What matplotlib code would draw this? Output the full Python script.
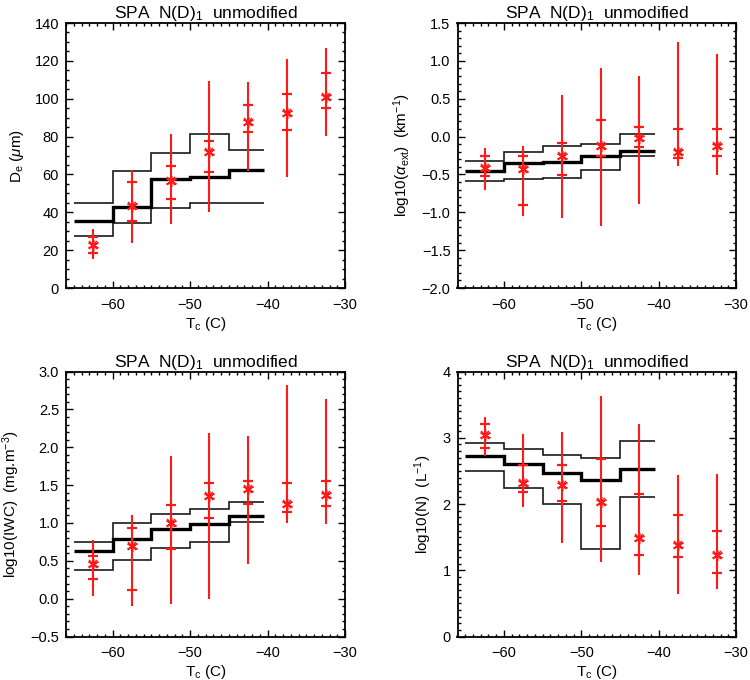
import matplotlib
matplotlib.use("Agg")
import matplotlib.pyplot as plt
from matplotlib.ticker import MultipleLocator
import numpy as np

plt.rcParams['font.family'] = ['Liberation Sans', 'DejaVu Sans']
plt.rcParams['mathtext.fontset'] = 'custom'
plt.rcParams['mathtext.rm'] = 'Liberation Sans'
plt.rcParams['mathtext.it'] = 'Liberation Sans:italic'
plt.rcParams['mathtext.bf'] = 'Liberation Sans:bold'

# ---- data ----
temp_centers = [-62.5, -57.5, -52.5, -47.5, -42.5, -37.5, -32.5]
bin_edges = [-65, -60, -55, -50, -45, -40.5]

# Panel 1: De (um)
de_med = [22.6, 43.3, 56.3, 72.1, 87.5, 92.6, 100.9]
de_q75 = [27.2, 55.8, 64.7, 77.4, 96.8, 102.3, 113.7]
de_q25 = [18.6, 35.3, 47.2, 61.4, 82.6, 83.3, 95.3]
de_hi = [31.1, 62.3, 81.6, 109.3, 108.9, 121.2, 126.7]
de_lo = [15.1, 23.9, 33.7, 40.2, 61.6, 58.8, 80.4]
de_mod_up = [45.1, 61.6, 71.1, 81.4, 73.0]
de_mod_mid = [35.4, 43.0, 57.4, 58.9, 62.5]
de_mod_lo = [27.4, 34.2, 42.1, 45.1, 45.1]

# Panel 2: log10(alpha_ext)
ext_med = [-0.417, -0.425, -0.25, -0.118, -0.013, -0.206, -0.123]
ext_q75 = [-0.254, -0.254, -0.083, 0.224, 0.127, 0.096, 0.105]
ext_q25 = [-0.518, -0.904, -0.513, -0.263, -0.136, -0.281, -0.259]
ext_hi = [-0.149, -0.127, 0.548, 0.908, 0.803, 1.25, 1.092]
ext_lo = [-0.70, -1.053, -1.079, -1.18, -0.886, -0.395, -0.509]
ext_mod_up = [-0.32, -0.20, -0.123, -0.096, 0.031]
ext_mod_mid = [-0.452, -0.35, -0.338, -0.263, -0.184]
ext_mod_lo = [-0.583, -0.561, -0.553, -0.439, -0.254]

# Panel 3: log10(IWC)
iwc_med = [0.46, 0.697, 1.0, 1.355, 1.443, 1.254, 1.373]
iwc_q75 = [0.561, 0.934, 1.241, 1.531, 1.553, 1.522, 1.548]
iwc_q25 = [0.254, 0.118, 0.662, 1.07, 1.246, 1.149, 1.219]
iwc_hi = [0.776, 1.11, 1.882, 2.189, 2.149, 2.816, 2.64]
iwc_lo = [0.031, -0.096, -0.066, -0.004, 0.46, 1.004, 0.982]
iwc_mod_up = [0.754, 1.0, 1.118, 1.18, 1.281]
iwc_mod_mid = [0.632, 0.789, 0.921, 0.987, 1.092]
iwc_mod_lo = [0.382, 0.509, 0.667, 0.746, 1.009]

# Panel 4: log10(N)
n_med = [3.04, 2.318, 2.283, 2.025, 1.49, 1.384, 1.227]
n_q75 = [3.202, 2.596, 2.596, 2.682, 2.152, 1.828, 1.591]
n_q25 = [2.848, 2.187, 2.045, 1.662, 1.237, 1.202, 0.96]
n_hi = [3.318, 3.06, 3.091, 3.631, 3.202, 2.434, 2.46]
n_lo = [2.722, 1.955, 1.409, 1.121, 0.924, 0.646, 0.717]
n_mod_up = [2.924, 2.823, 2.737, 2.697, 2.949]
n_mod_mid = [2.732, 2.606, 2.465, 2.359, 2.535]
n_mod_lo = [2.495, 2.247, 2.0, 1.323, 2.106]

title = r"SPA  N(D)$_1$  unmodified"
xlabel = r"T$_\mathrm{c}$ (C)"

panels = [
    dict(med=de_med, q75=de_q75, q25=de_q25, hi=de_hi, lo=de_lo,
         up=de_mod_up, mid=de_mod_mid, dn=de_mod_lo,
         ylim=(0, 140), major=20, minor=5, fmt="{:.0f}",
         ylabel=r"D$_\mathrm{e}$ ($\mu$m)"),
    dict(med=ext_med, q75=ext_q75, q25=ext_q25, hi=ext_hi, lo=ext_lo,
         up=ext_mod_up, mid=ext_mod_mid, dn=ext_mod_lo,
         ylim=(-2.0, 1.5), major=0.5, minor=0.1, fmt="{:.1f}",
         ylabel=r"log10($\alpha_\mathrm{ext}$)  (km$^{-1}$)"),
    dict(med=iwc_med, q75=iwc_q75, q25=iwc_q25, hi=iwc_hi, lo=iwc_lo,
         up=iwc_mod_up, mid=iwc_mod_mid, dn=iwc_mod_lo,
         ylim=(-0.5, 3.0), major=0.5, minor=0.1, fmt="{:.1f}",
         ylabel=r"log10(IWC)  (mg.m$^{-3}$)"),
    dict(med=n_med, q75=n_q75, q25=n_q25, hi=n_hi, lo=n_lo,
         up=n_mod_up, mid=n_mod_mid, dn=n_mod_lo,
         ylim=(0, 4), major=1, minor=0.1, fmt="{:.0f}",
         ylabel=r"log10(N)  (L$^{-1}$)"),
]

W, H = 750, 680
fig = plt.figure(figsize=(W / 100, H / 100), dpi=100)

boxes = [(66, 23, 345, 288), (457.5, 23, 736, 288),
         (66, 371.5, 345, 636.5), (457.5, 371.5, 736, 636.5)]

red = '#ff1a1a'
for p, (l, t, r, b) in zip(panels, boxes):
    ax = fig.add_axes([l / W, 1 - b / H, (r - l) / W, (b - t) / H])
    # model step lines
    ax.stairs(p['up'], bin_edges, baseline=None, color='#1a1a1a', lw=1.2)
    ax.stairs(p['dn'], bin_edges, baseline=None, color='#1a1a1a', lw=1.2)
    ax.stairs(p['mid'], bin_edges, baseline=None, color='#000000', lw=2.4)
    # observations
    ax.vlines(temp_centers, p['lo'], p['hi'], color=red, lw=1.5, zorder=3)
    ax.plot(temp_centers, p['q75'], ls='none', marker='_', ms=7, mew=1.6,
            color=red, zorder=4)
    ax.plot(temp_centers, p['q25'], ls='none', marker='_', ms=7, mew=1.6,
            color=red, zorder=4)
    ax.plot(temp_centers, p['med'], ls='none', marker=(6, 2, 0), ms=8, mew=1.1,
            color=red, zorder=5)
    ax.plot(temp_centers, p['med'], ls='none', marker='x', ms=6, mew=1.1,
            color=red, zorder=5)

    ax.set_xlim(-66, -30)
    ax.set_ylim(*p['ylim'])
    ax.xaxis.set_major_locator(MultipleLocator(10))
    ax.xaxis.set_minor_locator(MultipleLocator(1))
    ax.yaxis.set_major_locator(MultipleLocator(p['major']))
    ax.yaxis.set_minor_locator(MultipleLocator(p['minor']))
    fmt = p['fmt']
    ax.set_yticks(ax.get_yticks())
    ax.set_yticklabels([fmt.format(v).replace('-', '\u2212') for v in ax.get_yticks()])
    ax.set_ylim(*p['ylim'])
    ax.tick_params(which='both', direction='in', top=True, right=True,
                   labelsize=10.5, width=1.0, colors='black')
    ax.tick_params(which='major', length=5)
    ax.tick_params(axis='y', which='major', pad=5)
    ax.tick_params(axis='x', which='major', pad=7)
    ax.tick_params(which='minor', length=2.5)
    for s in ax.spines.values():
        s.set_linewidth(1.3)
    ax.set_title(title, fontsize=12.5, pad=3)
    ax.set_xlabel(xlabel, fontsize=11, labelpad=2)
    ax.set_ylabel(p['ylabel'], fontsize=11, labelpad=6)

fig.savefig("out.png", dpi=100)
